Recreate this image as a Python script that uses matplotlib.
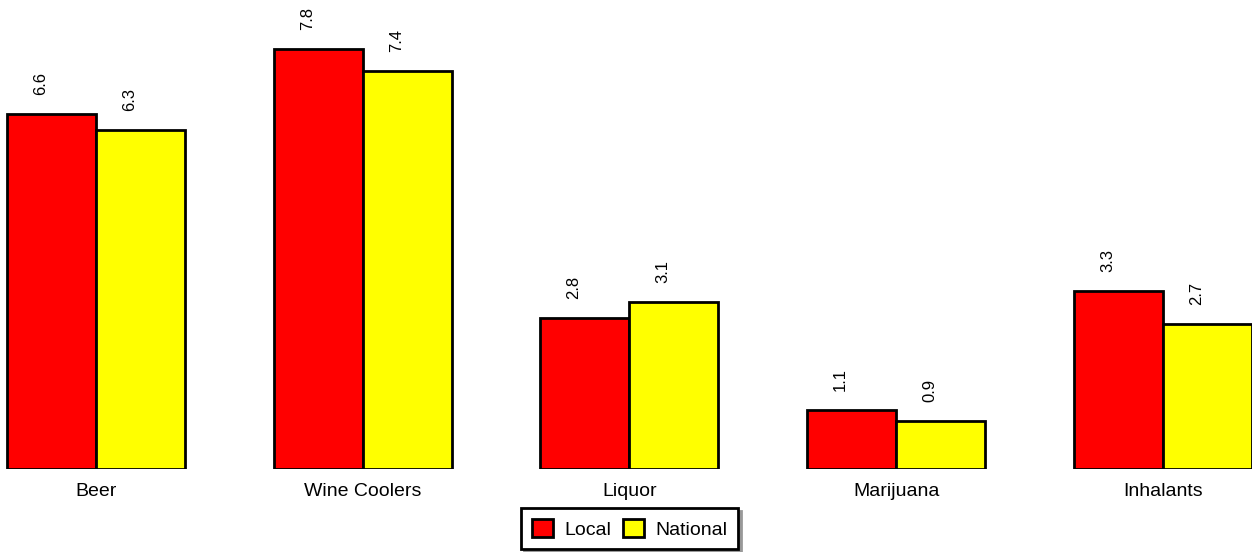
import matplotlib.pyplot as plt
import numpy as np

plt.rcParams['font.family'] = ['Liberation Sans', 'DejaVu Sans']

categories = ['Beer', 'Wine Coolers', 'Liquor', 'Marijuana', 'Inhalants']
local = [6.6, 7.8, 2.8, 1.1, 3.3]
national = [6.3, 7.4, 3.1, 0.9, 2.7]

fig = plt.figure(figsize=(12.52, 5.52), dpi=100)
ax = fig.add_axes([0, 83 / 552, 1, 469 / 552])

x = np.arange(len(categories))
w = 0.3336
b1 = ax.bar(x - w / 2, local, w, color='#ff0000', edgecolor='black', linewidth=2, label='Local')
b2 = ax.bar(x + w / 2, national, w, color='#ffff00', edgecolor='black', linewidth=2, label='National')

# rotated value labels above each bar
for bars, vals in ((b1, local), (b2, national)):
    for r, v in zip(bars, vals):
        ax.annotate(f'{v}', (r.get_x() + r.get_width() / 2, v),
                    xytext=(-11, 19), textcoords='offset pixels',
                    rotation=90, ha='center', va='bottom', fontsize=12)

ax.set_xlim(-0.36, 4.334)
ax.set_ylim(0, 8.71)
ax.set_xticks(x)
ax.set_xticklabels(categories, fontsize=14)
ax.tick_params(axis='x', length=0, pad=10)
ax.set_yticks([])
for s in ax.spines.values():
    s.set_visible(False)

leg = fig.legend(loc='lower center', bbox_to_anchor=(0.503, 0.005), ncol=2, fontsize=14,
                 frameon=True, fancybox=False, shadow={'color': '0.6', 'alpha': 1},
                 edgecolor='black', handlelength=1.08, handleheight=1.08,
                 handletextpad=0.62, columnspacing=0.57, borderpad=0.55, borderaxespad=0)
leg.get_frame().set_linewidth(2)

fig.savefig('out.png', dpi=100)
